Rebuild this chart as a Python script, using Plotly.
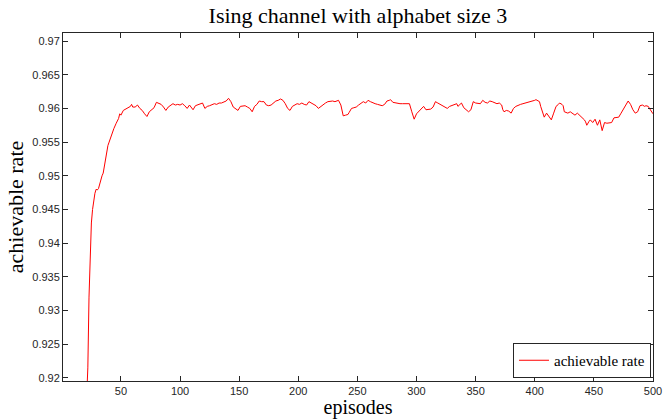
import plotly.graph_objects as go

episodes = [21, 22, 23, 24, 25, 26, 27, 28, 29, 30, 31, 32, 33, 34, 35, 36, 37, 38, 39, 40,
            42, 44, 46, 48, 49, 50, 52, 54, 56, 58, 59, 60, 62, 64, 66, 68, 70, 72, 74, 76,
            78, 80, 82, 84, 86, 88, 90, 92, 94, 96, 98, 100, 102, 104, 106, 108, 110, 111, 113, 115,
            117, 119, 121, 123, 125, 127, 129, 131, 133, 135, 137, 139, 141, 143, 145, 147, 149, 151, 153, 155,
            157, 159, 161, 163, 165, 167, 169, 171, 173, 175, 177, 179, 181, 183, 185, 187, 189, 191, 193, 195,
            197, 199, 201, 203, 205, 207, 209, 211, 213, 215, 217, 219, 221, 223, 225, 227, 229, 231, 233, 234,
            236, 237, 238, 240, 242, 243, 245, 247, 249, 251, 253, 255, 257, 259, 261, 263, 265, 267, 269, 271,
            273, 275, 277, 278, 280, 282, 284, 286, 288, 290, 292, 294, 296, 298, 300, 302, 304, 306, 308, 310,
            312, 314, 316, 318, 320, 322, 324, 326, 328, 330, 332, 334, 335, 337, 338, 340, 342, 344, 346, 348,
            350, 352, 354, 356, 358, 360, 362, 364, 366, 368, 370, 372, 373, 374, 376, 378, 380, 382, 384, 386,
            388, 390, 392, 394, 396, 398, 400, 401, 403, 404, 405, 407, 408, 410, 412, 414, 416, 418, 420, 421,
            423, 424, 425, 427, 428, 430, 432, 434, 436, 438, 440, 442, 443, 444, 446, 447, 449, 451, 453, 455,
            457, 459, 461, 463, 465, 467, 469, 471, 473, 475, 477, 479, 481, 483, 485, 487, 489, 491, 493, 494,
            496, 497, 498, 500]

rate = [0.9170, 0.9215, 0.9320, 0.9390, 0.9430, 0.9450, 0.9465, 0.9474, 0.9480, 0.9479,
        0.9481, 0.9488, 0.9495, 0.9500, 0.9504, 0.9515, 0.9528, 0.9538, 0.9545, 0.9550,
        0.9562, 0.9570, 0.9578, 0.9585, 0.9592, 0.9590, 0.9597, 0.9599, 0.9601, 0.9603,
        0.9606, 0.9602, 0.9602, 0.9605, 0.9600, 0.9597, 0.9592, 0.9588, 0.9595, 0.9598,
        0.9601, 0.9609, 0.9607, 0.9606, 0.9602, 0.9597, 0.9602, 0.9605, 0.9607, 0.9605,
        0.9606, 0.9605, 0.9607, 0.9604, 0.9600, 0.9605, 0.9601, 0.9598, 0.9604, 0.9605,
        0.9606, 0.9608, 0.9600, 0.9603, 0.9604, 0.9606, 0.9607, 0.9606, 0.9608, 0.9608,
        0.9609, 0.9611, 0.9615, 0.9610, 0.9602, 0.9599, 0.9597, 0.9603, 0.9603, 0.9604,
        0.9602, 0.9600, 0.9595, 0.9603, 0.9606, 0.9611, 0.9610, 0.9610, 0.9605, 0.9604,
        0.9605, 0.9608, 0.9611, 0.9612, 0.9614, 0.9612, 0.9607, 0.9600, 0.9597, 0.9603,
        0.9605, 0.9607, 0.9606, 0.9608, 0.9606, 0.9605, 0.9610, 0.9608, 0.9606, 0.9604,
        0.9600, 0.9603, 0.9605, 0.9608, 0.9610, 0.9611, 0.9611, 0.9610, 0.9611, 0.9612,
        0.9605, 0.9595, 0.9589, 0.9590, 0.9591, 0.9594, 0.9600, 0.9601, 0.9602, 0.9605,
        0.9608, 0.9610, 0.9608, 0.9612, 0.9610, 0.9608, 0.9607, 0.9606, 0.9605, 0.9604,
        0.9606, 0.9611, 0.9612, 0.9613, 0.9609, 0.9608, 0.9608, 0.9607, 0.9607, 0.9607,
        0.9606, 0.9607, 0.9595, 0.9584, 0.9592, 0.9596, 0.9600, 0.9603, 0.9598, 0.9599,
        0.9599, 0.9602, 0.9610, 0.9608, 0.9606, 0.9604, 0.9601, 0.9600, 0.9603, 0.9604,
        0.9605, 0.9607, 0.9603, 0.9606, 0.9608, 0.9601, 0.9598, 0.9595, 0.9598, 0.9610,
        0.9608, 0.9607, 0.9607, 0.9612, 0.9609, 0.9608, 0.9611, 0.9610, 0.9609, 0.9607,
        0.9608, 0.9605, 0.9598, 0.9595, 0.9597, 0.9596, 0.9593, 0.9600, 0.9603, 0.9605,
        0.9606, 0.9607, 0.9608, 0.9608, 0.9610, 0.9611, 0.9612, 0.9613, 0.9611, 0.9610,
        0.9603, 0.9593, 0.9587, 0.9593, 0.9587, 0.9583, 0.9593, 0.9603, 0.9606, 0.9608,
        0.9606, 0.9604, 0.9595, 0.9594, 0.9593, 0.9595, 0.9592, 0.9590, 0.9593, 0.9590,
        0.9587, 0.9583, 0.9580, 0.9575, 0.9581, 0.9583, 0.9579, 0.9584, 0.9575, 0.9583,
        0.9567, 0.9579, 0.9578, 0.9578, 0.9579, 0.9586, 0.9586, 0.9587, 0.9593, 0.9600,
        0.9605, 0.9611, 0.9606, 0.9598, 0.9593, 0.9595, 0.9604, 0.9605, 0.9603, 0.9604,
        0.9603, 0.9600, 0.9597, 0.9592]

x_ticks = [50, 100, 150, 200, 250, 300, 350, 400, 450, 500]
y_ticks = [0.92, 0.925, 0.93, 0.935, 0.94, 0.945, 0.95, 0.955, 0.96, 0.965, 0.97]
y_tick_labels = ["0.92", "0.925", "0.93", "0.935", "0.94", "0.945", "0.95", "0.955", "0.96", "0.965", "0.97"]

axis_color = "#262626"
serif = "Liberation Serif"
sans = "Liberation Sans"

fig = go.Figure()
fig.add_trace(go.Scatter(
    x=episodes, y=rate, mode="lines", name="achievable rate",
    line=dict(color="#ff0000", width=1),
))

fig.update_layout(
    width=665, height=419,
    margin=dict(l=63, r=12, t=33, b=38, autoexpand=False),
    paper_bgcolor="white", plot_bgcolor="white",
    title=dict(text="Ising channel with alphabet size 3", x=0.5383, xanchor="center",
               y=0.963, yanchor="middle",
               font=dict(family=serif, size=22, color="black")),
    showlegend=True,
    legend=dict(x=0.9966, y=0.0086, xanchor="right", yanchor="bottom",
                bgcolor="white", bordercolor=axis_color, borderwidth=1,
                font=dict(family=serif, size=15, color="black"),
                itemwidth=30, tracegroupgap=0),
)

fig.update_xaxes(
    range=[1, 500], tickvals=x_ticks, ticks="inside", ticklen=5, tickcolor=axis_color,
    showline=True, linecolor=axis_color, linewidth=1, mirror="ticks",
    showgrid=False, zeroline=False, automargin=False,
    tickfont=dict(family=sans, size=11, color=axis_color),
    title=dict(text="episodes", font=dict(family=serif, size=20, color="black"), standoff=8),
)
fig.update_yaxes(
    range=[0.91955, 0.97119], tickvals=y_ticks, ticktext=y_tick_labels,
    ticks="inside", ticklen=5, tickcolor=axis_color,
    showline=True, linecolor=axis_color, linewidth=1, mirror="ticks",
    showgrid=False, zeroline=False, automargin=False,
    tickfont=dict(family=sans, size=11, color=axis_color),
    title=dict(text="achievable rate", font=dict(family=serif, size=22, color="black"), standoff=2),
)

fig.write_html("out.html")
